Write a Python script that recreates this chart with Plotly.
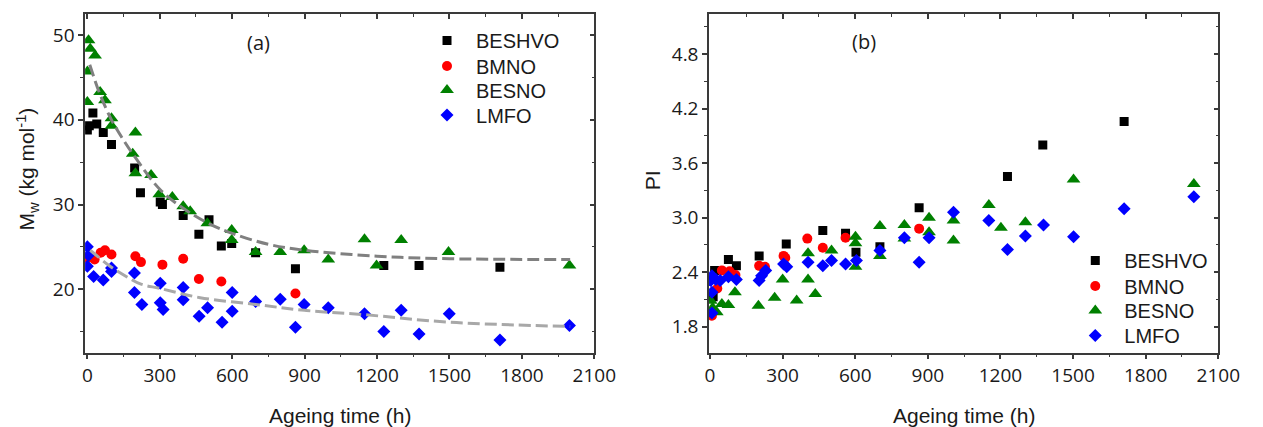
import plotly.graph_objects as go

# ---------------- data: panel (a) Mw ----------------
beshvo_a_x = [0, 8, 23, 39, 66, 100, 196, 220, 302, 311, 397, 462, 504, 555, 598, 697, 862, 1228, 1374, 1709]
beshvo_a_y = [38.8, 39.3, 40.8, 39.5, 38.5, 37.1, 34.3, 31.4, 30.3, 30.0, 28.7, 26.5, 28.2, 25.1, 25.4, 24.3, 22.4, 22.8, 22.8, 22.6]

bmno_a_x = [0, 30, 55, 73, 100, 199, 222, 311, 397, 462, 555, 862]
bmno_a_y = [23.7, 23.5, 24.3, 24.6, 24.1, 23.9, 23.2, 22.9, 23.6, 21.2, 20.9, 19.5]

besno_a_x = [0, 0, 5, 12, 32, 53, 73, 100, 100, 188, 199, 199, 264, 298, 352, 397, 426, 497, 598, 598,
             697, 799, 898, 998, 1148, 1198, 1300, 1496, 1997]
besno_a_y = [42.1, 45.7, 49.4, 48.4, 47.6, 43.3, 42.3, 40.2, 39.3, 36.0, 38.5, 33.7, 33.5, 31.2, 30.9, 29.8, 29.2, 27.8, 27.0, 25.8,
             24.4, 24.4, 24.6, 23.5, 25.9, 22.8, 25.8, 24.4, 22.8]

lmfo_a_x = [0, 0, 5, 26, 66, 100, 100, 195, 195, 226, 302, 302, 314, 397, 397, 463, 498, 558, 600, 600,
            697, 799, 862, 898, 998, 1148, 1228, 1300, 1374, 1499, 1709, 1997]
lmfo_a_y = [25.0, 22.7, 24.0, 21.5, 21.1, 22.5, 22.1, 21.9, 19.6, 18.2, 20.7, 18.4, 17.6, 20.2, 18.75, 16.8, 17.8, 16.1, 19.6, 17.4,
            18.55, 18.8, 15.5, 18.2, 17.8, 17.1, 15.0, 17.5, 14.7, 17.1, 14.0, 15.7]

# dashed fit curves
fit_hi_x = [10, 50, 100, 150, 200, 300, 400, 500, 600, 750, 900, 1200, 1500, 2000]
fit_hi_y = [46.5, 43.2, 40.0, 37.6, 35.5, 31.8, 29.5, 27.8, 26.6, 25.3, 24.6, 23.9, 23.6, 23.5]
fit_lo_x = [12, 33, 94, 161, 222, 300, 467, 697, 900, 1144, 1500, 2000]
fit_lo_y = [24.6, 24.1, 22.7, 21.5, 20.6, 20.1, 19.0, 18.2, 17.5, 17.0, 16.1, 15.6]

# ---------------- data: panel (b) PI ----------------
beshvo_b_x = [13, 19, 76, 109, 203, 315, 466, 560, 603, 702, 864, 1229, 1375, 1711]
beshvo_b_y = [2.13, 2.42, 2.54, 2.47, 2.58, 2.71, 2.86, 2.83, 2.62, 2.68, 3.11, 3.455, 3.80, 4.06]

bmno_b_x = [8, 30, 49, 81, 105, 203, 227, 304, 311, 402, 466, 560, 864]
bmno_b_y = [1.92, 2.22, 2.42, 2.41, 2.37, 2.47, 2.46, 2.58, 2.56, 2.77, 2.67, 2.78, 2.88]

besno_b_x = [3, 11, 28, 49, 76, 103, 200, 267, 300, 358, 405, 405, 435, 502, 601, 601, 601, 702, 702, 803,
             803, 905, 905, 1006, 1006, 1152, 1202, 1303, 1502, 1999]
besno_b_y = [2.085, 2.01, 1.96, 2.05, 2.04, 2.18, 2.03, 2.12, 2.32, 2.09, 2.32, 2.61, 2.16, 2.64, 2.79, 2.72, 2.46, 2.91, 2.58, 2.92,
             2.77, 3.0, 2.84, 2.97, 2.75, 3.14, 2.89, 2.95, 3.42, 3.37]

lmfo_b_x = [3, 8, 8, 8, 24, 42, 76, 109, 203, 213, 230, 304, 317, 405, 466, 502, 560, 605, 702, 803,
            864, 905, 1006, 1152, 1229, 1303, 1378, 1502, 1711, 1999]
lmfo_b_y = [2.31, 2.36, 2.18, 1.95, 2.32, 2.31, 2.35, 2.32, 2.31, 2.36, 2.42, 2.49, 2.46, 2.51, 2.47, 2.53, 2.49, 2.53, 2.64, 2.78,
            2.51, 2.78, 3.06, 2.97, 2.65, 2.80, 2.92, 2.79, 3.10, 3.23]

names = ["BESHVO", "BMNO", "BESNO", "LMFO"]
colors = ["#000000", "#ff0000", "#008000", "#0000ff"]
symbols = ["square", "circle", "triangle-up", "diamond"]
sizes = [9, 10, 12, 10]

series_a = [(beshvo_a_x, beshvo_a_y), (bmno_a_x, bmno_a_y), (besno_a_x, besno_a_y), (lmfo_a_x, lmfo_a_y)]
series_b = [(beshvo_b_x, beshvo_b_y), (bmno_b_x, bmno_b_y), (besno_b_x, besno_b_y), (lmfo_b_x, lmfo_b_y)]

# layout is a bit wider than the 1263 px window (extra part is off-screen) so the right legend is not clamped
W, H = 1340, 427
fig = go.Figure()

# invisible empty traces so the mirrored (inside-tick) axes are drawn
for xa, ya in [("x3", "y3"), ("x4", "y4")]:
    fig.add_trace(go.Scatter(x=[], y=[], xaxis=xa, yaxis=ya, showlegend=False, hoverinfo="skip"))

for i, (xs, ys) in enumerate(series_a):
    fig.add_trace(go.Scatter(x=xs, y=ys, mode="markers", name=names[i], legend="legend" if i == 0 else f"legend{i + 1}",
                             marker=dict(symbol=symbols[i], size=sizes[i], color=colors[i], line=dict(width=0)),
                             xaxis="x", yaxis="y"))
fig.add_trace(go.Scatter(x=fit_hi_x, y=fit_hi_y, mode="lines", line=dict(color="#808080", width=3, dash="12px,5px", shape="spline"),
                         showlegend=False, xaxis="x", yaxis="y"))
fig.add_trace(go.Scatter(x=fit_lo_x, y=fit_lo_y, mode="lines", line=dict(color="#a8a8a8", width=3, dash="12px,5px", shape="spline"),
                         showlegend=False, xaxis="x", yaxis="y"))

for i, (xs, ys) in enumerate(series_b):
    fig.add_trace(go.Scatter(x=xs, y=ys, mode="markers", name=names[i], legend=f"legend{i + 5}",
                             marker=dict(symbol=symbols[i], size=sizes[i], color=colors[i], line=dict(width=0)),
                             xaxis="x2", yaxis="y2"))

axcol = "#3a3a3a"
tickfont = dict(family="Open Sans", size=19, color="#1a1a1a")

xa_dom = [82.7 / W, 602 / W]
xb_dom = [719 / W, 1238.3 / W]
y_dom = [1 - 352.7 / H, 1 - 14 / H]

xr_a = [-9.3, 2100]
xr_b = [-4, 2100]
yr_a = [12.5, 52.5]
yr_b = [1.514, 5.243]

def main_x(dom, rng, anchor):
    return dict(domain=dom, range=rng, anchor=anchor, showgrid=False, zeroline=False,
                showline=True, linecolor=axcol, linewidth=1.5,
                ticks="outside", ticklen=5, tickwidth=1.5, tickcolor=axcol,
                tick0=0, dtick=300, tickfont=tickfont,
                minor=dict(ticks="outside", ticklen=3, tickwidth=1.2, tickcolor=axcol, dtick=150, tick0=0))

def main_y(dom, rng, anchor, t0, dt, fmt=""):
    return dict(domain=dom, range=rng, anchor=anchor, showgrid=False, zeroline=False,
                showline=True, linecolor=axcol, linewidth=1.5,
                ticks="outside", ticklen=5, tickwidth=1.5, tickcolor=axcol,
                tick0=t0, dtick=dt, tickfont=tickfont, tickformat=fmt,
                minor=dict(ticks="outside", ticklen=3, tickwidth=1.2, tickcolor=axcol, dtick=dt / 2, tick0=t0))

def mirror_x(dom, rng, anchor, over):
    return dict(domain=dom, range=rng, anchor=anchor, overlaying=over, side="top", showgrid=False, zeroline=False,
                showline=True, linecolor=axcol, linewidth=1.5, showticklabels=False,
                ticks="inside", ticklen=5, tickwidth=1.5, tickcolor=axcol, tick0=0, dtick=300,
                minor=dict(ticks="inside", ticklen=3, tickwidth=1.2, tickcolor=axcol, dtick=150, tick0=0))

def mirror_y(dom, rng, anchor, over, t0, dt):
    return dict(domain=dom, range=rng, anchor=anchor, overlaying=over, side="right", showgrid=False, zeroline=False,
                showline=True, linecolor=axcol, linewidth=1.5, showticklabels=False,
                ticks="inside", ticklen=5, tickwidth=1.5, tickcolor=axcol, tick0=t0, dtick=dt,
                minor=dict(ticks="inside", ticklen=3, tickwidth=1.2, tickcolor=axcol, dtick=dt / 2, tick0=t0))

legfont = dict(family="Liberation Sans", size=20, color="#1a1a1a")
layout_legends = {}
row_y_a = [40.5, 66, 90, 115]
row_y_b = [260.5, 286, 310.5, 335.5]
for i in range(4):
    key_a = "legend" if i == 0 else f"legend{i + 1}"
    layout_legends[key_a] = dict(x=(446.7 - 24.5) / W, y=1 - row_y_a[i] / H, xanchor="left", yanchor="middle",
                                 font=legfont, itemwidth=48, bgcolor="rgba(0,0,0,0)", borderwidth=0)
    layout_legends[f"legend{i + 5}"] = dict(x=(1113.3 - 30) / W, y=1 - row_y_b[i] / H, xanchor="left", yanchor="middle",
                                            font=legfont, itemwidth=48, bgcolor="rgba(0,0,0,0)", borderwidth=0)

fig.update_layout(
    width=W, height=H, margin=dict(l=0, r=0, t=0, b=0),
    paper_bgcolor="white", plot_bgcolor="white",
    xaxis=main_x(xa_dom, xr_a, "y"),
    yaxis=main_y(y_dom, yr_a, "x", 20, 10),
    xaxis2=main_x(xb_dom, xr_b, "y2"),
    yaxis2=main_y(y_dom, yr_b, "x2", 1.8, 0.6, ".1f"),
    xaxis3=mirror_x(xa_dom, xr_a, "y3", "x"),
    yaxis3=mirror_y(y_dom, yr_a, "x3", "y", 20, 10),
    xaxis4=mirror_x(xb_dom, xr_b, "y4", "x2"),
    yaxis4=mirror_y(y_dom, yr_b, "x4", "y2", 1.8, 0.6),
    showlegend=True,
    **layout_legends,
)

title_font = dict(family="Liberation Sans", size=21, color="#1a1a1a")
fig.add_annotation(text="Ageing time (h)", x=(xa_dom[0] + xa_dom[1]) / 2, y=1 - 415 / H, xref="paper", yref="paper",
                   showarrow=False, font=title_font, xanchor="center", yanchor="middle")
fig.add_annotation(text="Ageing time (h)", x=(xb_dom[0] + xb_dom[1]) / 2, y=1 - 415 / H, xref="paper", yref="paper",
                   showarrow=False, font=title_font, xanchor="center", yanchor="middle")
fig.add_annotation(text="M<sub>w</sub> (kg mol<sup>-1</sup>)", x=23 / W, y=1 - 169 / H, xref="paper", yref="paper",
                   showarrow=False, font=title_font, textangle=-90, xanchor="center", yanchor="middle")
fig.add_annotation(text="PI", x=661 / W, y=1 - 180 / H, xref="paper", yref="paper",
                   showarrow=False, font=title_font, textangle=-90, xanchor="center", yanchor="middle")
panel_font = dict(family="Open Sans", size=20, color="#1a1a1a")
fig.add_annotation(text="(a)", x=711, y=49.1, xref="x", yref="y", showarrow=False, font=panel_font)
fig.add_annotation(text="(b)", x=635, y=4.94, xref="x2", yref="y2", showarrow=False, font=panel_font)

fig.write_html("out.html", config={"displayModeBar": False},
               post_script="document.body.style.margin='0';document.body.style.overflow='hidden';")
